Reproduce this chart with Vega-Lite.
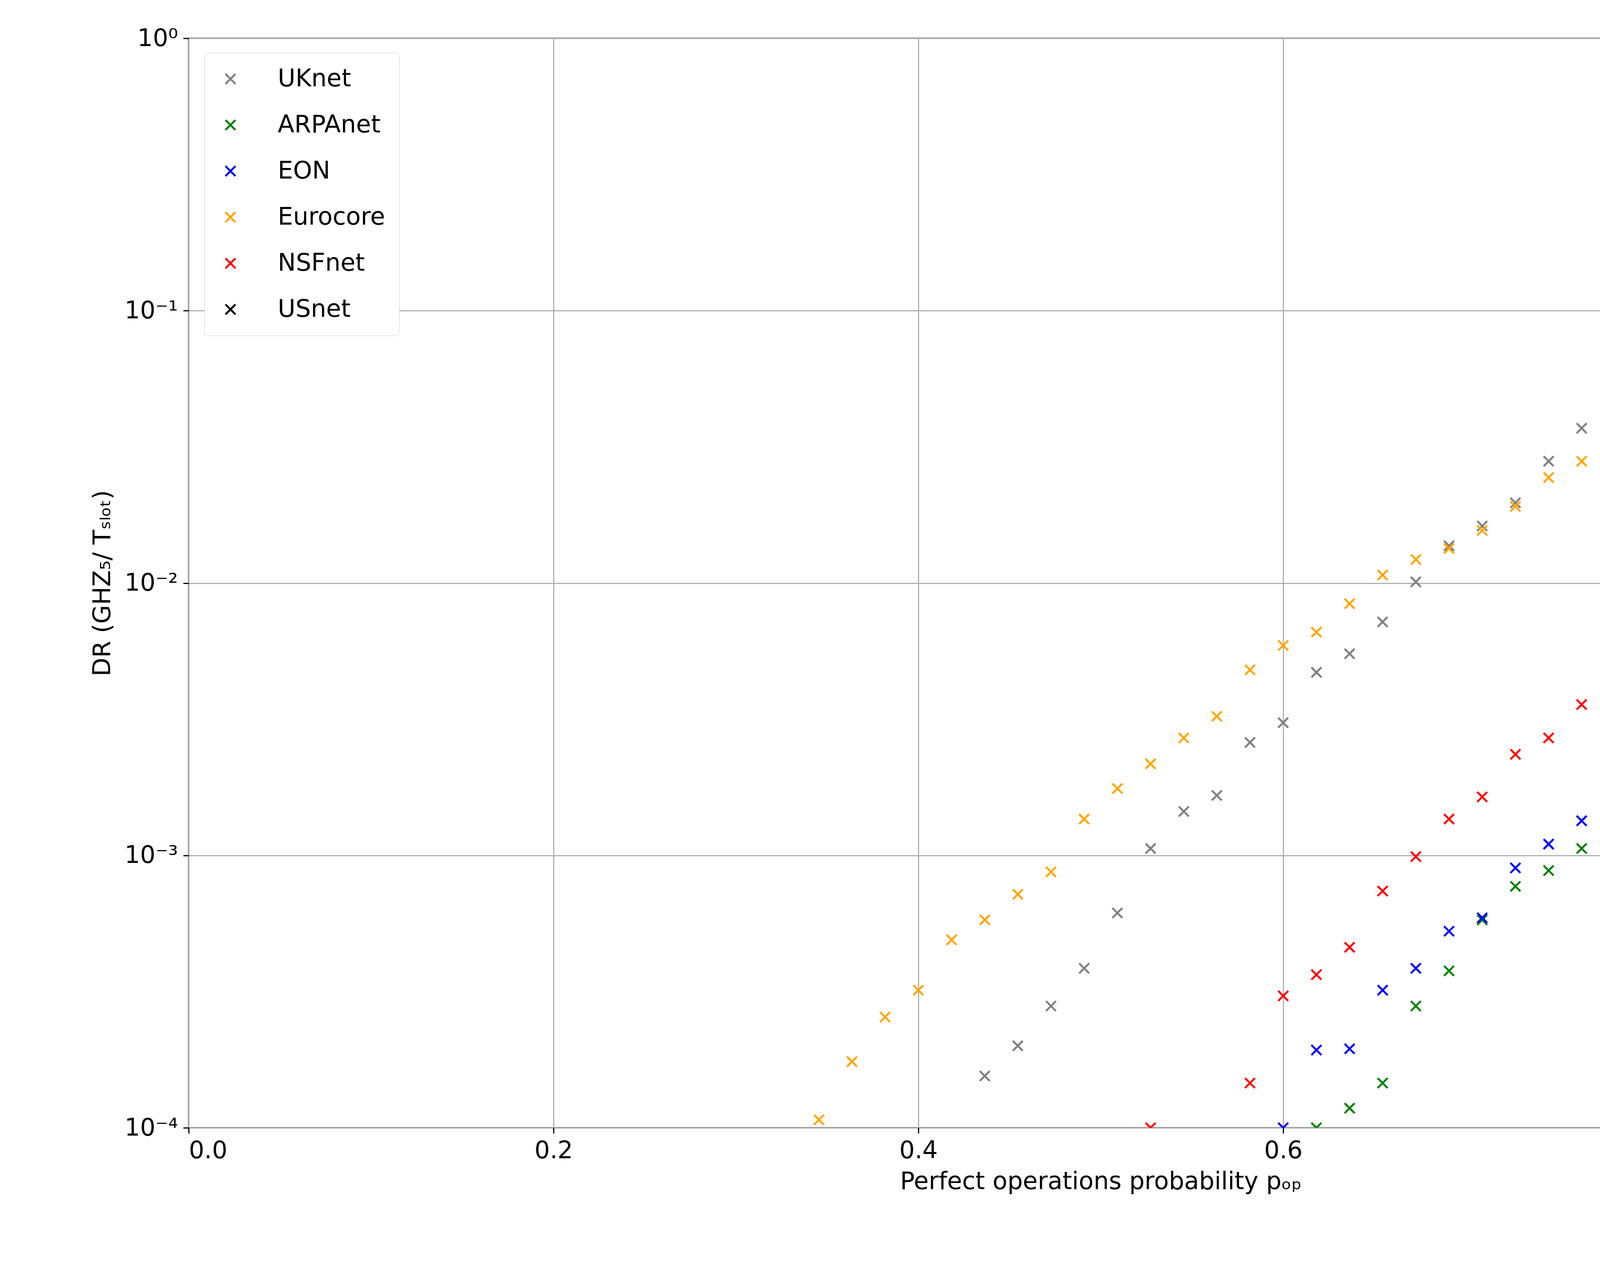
{
  "$schema": "https://vega.github.io/schema/vega-lite/v6.json",
  "width": 4670,
  "height": 2789,
  "autosize": "none",
  "padding": {"left": 483, "top": 98, "right": 115, "bottom": 341},
  "background": "white",
  "data": {"values": [
    {"s":"UKnet","x":0.4364,"y":1.55e-4},{"s":"UKnet","x":0.4545,"y":2.0e-4},{"s":"UKnet","x":0.4727,"y":2.8e-4},{"s":"UKnet","x":0.4909,"y":3.85e-4},{"s":"UKnet","x":0.5091,"y":6.15e-4},{"s":"UKnet","x":0.5273,"y":1.06e-3},{"s":"UKnet","x":0.5455,"y":1.45e-3},{"s":"UKnet","x":0.5636,"y":1.66e-3},{"s":"UKnet","x":0.5818,"y":2.6e-3},{"s":"UKnet","x":0.6,"y":3.07e-3},{"s":"UKnet","x":0.6182,"y":4.7e-3},{"s":"UKnet","x":0.6364,"y":5.5e-3},{"s":"UKnet","x":0.6545,"y":7.2e-3},{"s":"UKnet","x":0.6727,"y":1.01e-2},{"s":"UKnet","x":0.6909,"y":1.37e-2},{"s":"UKnet","x":0.7091,"y":1.62e-2},{"s":"UKnet","x":0.7273,"y":1.97e-2},{"s":"UKnet","x":0.7455,"y":2.8e-2},{"s":"UKnet","x":0.7636,"y":3.7e-2},{"s":"UKnet","x":0.7818,"y":4.55e-2},{"s":"UKnet","x":0.8,"y":6.2e-2},{"s":"UKnet","x":0.8182,"y":7.0e-2},{"s":"UKnet","x":0.8364,"y":8.4e-2},{"s":"UKnet","x":0.8545,"y":0.112},{"s":"UKnet","x":0.8727,"y":0.149},{"s":"UKnet","x":0.8909,"y":0.142},{"s":"UKnet","x":0.9091,"y":0.199},{"s":"UKnet","x":0.9273,"y":0.284},{"s":"UKnet","x":0.9455,"y":0.31},{"s":"UKnet","x":0.9636,"y":0.375},{"s":"UKnet","x":0.9818,"y":0.45},{"s":"UKnet","x":1.0,"y":0.54},
    {"s":"ARPAnet","x":0.6182,"y":1.0e-4},{"s":"ARPAnet","x":0.6364,"y":1.18e-4},{"s":"ARPAnet","x":0.6545,"y":1.46e-4},{"s":"ARPAnet","x":0.6727,"y":2.8e-4},{"s":"ARPAnet","x":0.6909,"y":3.77e-4},{"s":"ARPAnet","x":0.7091,"y":5.8e-4},{"s":"ARPAnet","x":0.7273,"y":7.7e-4},{"s":"ARPAnet","x":0.7455,"y":8.8e-4},{"s":"ARPAnet","x":0.7636,"y":1.06e-3},{"s":"ARPAnet","x":0.7818,"y":1.54e-3},{"s":"ARPAnet","x":0.8,"y":2.07e-3},{"s":"ARPAnet","x":0.8182,"y":2.8e-3},{"s":"ARPAnet","x":0.8364,"y":3.9e-3},{"s":"ARPAnet","x":0.8545,"y":4.5e-3},{"s":"ARPAnet","x":0.8727,"y":6.2e-3},{"s":"ARPAnet","x":0.8909,"y":8.5e-3},{"s":"ARPAnet","x":0.9091,"y":1.03e-2},{"s":"ARPAnet","x":0.9273,"y":1.08e-2},{"s":"ARPAnet","x":0.9455,"y":1.31e-2},{"s":"ARPAnet","x":0.9636,"y":1.83e-2},{"s":"ARPAnet","x":0.9818,"y":2.41e-2},{"s":"ARPAnet","x":1.0,"y":2.95e-2},
    {"s":"EON","x":0.6,"y":1.0e-4},{"s":"EON","x":0.6182,"y":1.93e-4},{"s":"EON","x":0.6364,"y":1.95e-4},{"s":"EON","x":0.6545,"y":3.2e-4},{"s":"EON","x":0.6727,"y":3.85e-4},{"s":"EON","x":0.6909,"y":5.27e-4},{"s":"EON","x":0.7091,"y":5.9e-4},{"s":"EON","x":0.7273,"y":9.0e-4},{"s":"EON","x":0.7455,"y":1.1e-3},{"s":"EON","x":0.7636,"y":1.34e-3},{"s":"EON","x":0.7818,"y":1.86e-3},{"s":"EON","x":0.8,"y":2.07e-3},{"s":"EON","x":0.8182,"y":2.7e-3},{"s":"EON","x":0.8364,"y":3.47e-3},{"s":"EON","x":0.8545,"y":3.58e-3},{"s":"EON","x":0.8727,"y":5.07e-3},{"s":"EON","x":0.8909,"y":5.42e-3},{"s":"EON","x":0.9091,"y":7.08e-3},{"s":"EON","x":0.9273,"y":8.2e-3},{"s":"EON","x":0.9455,"y":1.2e-2},{"s":"EON","x":0.9636,"y":1.41e-2},{"s":"EON","x":0.9818,"y":1.63e-2},{"s":"EON","x":1.0,"y":2.07e-2},
    {"s":"Eurocore","x":0.3455,"y":1.07e-4},{"s":"Eurocore","x":0.3636,"y":1.75e-4},{"s":"Eurocore","x":0.3818,"y":2.55e-4},{"s":"Eurocore","x":0.4,"y":3.2e-4},{"s":"Eurocore","x":0.4182,"y":4.9e-4},{"s":"Eurocore","x":0.4364,"y":5.8e-4},{"s":"Eurocore","x":0.4545,"y":7.2e-4},{"s":"Eurocore","x":0.4727,"y":8.7e-4},{"s":"Eurocore","x":0.4909,"y":1.36e-3},{"s":"Eurocore","x":0.5091,"y":1.76e-3},{"s":"Eurocore","x":0.5273,"y":2.17e-3},{"s":"Eurocore","x":0.5455,"y":2.7e-3},{"s":"Eurocore","x":0.5636,"y":3.24e-3},{"s":"Eurocore","x":0.5818,"y":4.8e-3},{"s":"Eurocore","x":0.6,"y":5.9e-3},{"s":"Eurocore","x":0.6182,"y":6.6e-3},{"s":"Eurocore","x":0.6364,"y":8.4e-3},{"s":"Eurocore","x":0.6545,"y":1.07e-2},{"s":"Eurocore","x":0.6727,"y":1.22e-2},{"s":"Eurocore","x":0.6909,"y":1.34e-2},{"s":"Eurocore","x":0.7091,"y":1.56e-2},{"s":"Eurocore","x":0.7273,"y":1.91e-2},{"s":"Eurocore","x":0.7455,"y":2.44e-2},{"s":"Eurocore","x":0.7636,"y":2.8e-2},{"s":"Eurocore","x":0.7818,"y":3.4e-2},{"s":"Eurocore","x":0.8,"y":4.5e-2},{"s":"Eurocore","x":0.8182,"y":4.8e-2},{"s":"Eurocore","x":0.8364,"y":5.6e-2},{"s":"Eurocore","x":0.8545,"y":6.7e-2},{"s":"Eurocore","x":0.8727,"y":6.9e-2},{"s":"Eurocore","x":0.8909,"y":8.1e-2},{"s":"Eurocore","x":0.9091,"y":0.106},{"s":"Eurocore","x":0.9273,"y":0.117},{"s":"Eurocore","x":0.9455,"y":0.145},{"s":"Eurocore","x":0.9636,"y":0.14},{"s":"Eurocore","x":0.9818,"y":0.2},{"s":"Eurocore","x":1.0,"y":0.18},
    {"s":"NSFnet","x":0.5273,"y":1.0e-4},{"s":"NSFnet","x":0.5818,"y":1.46e-4},{"s":"NSFnet","x":0.6,"y":3.05e-4},{"s":"NSFnet","x":0.6182,"y":3.65e-4},{"s":"NSFnet","x":0.6364,"y":4.6e-4},{"s":"NSFnet","x":0.6545,"y":7.4e-4},{"s":"NSFnet","x":0.6727,"y":9.9e-4},{"s":"NSFnet","x":0.6909,"y":1.36e-3},{"s":"NSFnet","x":0.7091,"y":1.64e-3},{"s":"NSFnet","x":0.7273,"y":2.35e-3},{"s":"NSFnet","x":0.7455,"y":2.7e-3},{"s":"NSFnet","x":0.7636,"y":3.58e-3},{"s":"NSFnet","x":0.7818,"y":5.5e-3},{"s":"NSFnet","x":0.8,"y":5.8e-3},{"s":"NSFnet","x":0.8182,"y":8.5e-3},{"s":"NSFnet","x":0.8364,"y":9.8e-3},{"s":"NSFnet","x":0.8545,"y":1.21e-2},{"s":"NSFnet","x":0.8727,"y":1.69e-2},{"s":"NSFnet","x":0.8909,"y":2.09e-2},{"s":"NSFnet","x":0.9091,"y":2.7e-2},{"s":"NSFnet","x":0.9273,"y":3.08e-2},{"s":"NSFnet","x":0.9455,"y":4.12e-2},{"s":"NSFnet","x":0.9636,"y":4.87e-2},{"s":"NSFnet","x":0.9818,"y":5.6e-2},{"s":"NSFnet","x":1.0,"y":7.4e-2},
    {"s":"USnet","x":0.8545,"y":1.0e-4},{"s":"USnet","x":0.8727,"y":1.73e-4},{"s":"USnet","x":0.8909,"y":3.0e-4},{"s":"USnet","x":0.9091,"y":5.15e-4},{"s":"USnet","x":0.9273,"y":8.6e-4},{"s":"USnet","x":0.9455,"y":1.55e-3},{"s":"USnet","x":0.9636,"y":2.73e-3},{"s":"USnet","x":0.9818,"y":3.96e-3},{"s":"USnet","x":1.0,"y":6.8e-3}
  ]},
  "mark": {
    "type": "point",
    "shape": "M-1,-1L1,1M-1,1L1,-1",
    "filled": false,
    "size": 650,
    "strokeWidth": 5,
    "opacity": 1,
    "clip": true
  },
  "encoding": {
    "x": {
      "field": "x", "type": "quantitative",
      "scale": {"domain": [0, 1], "nice": false, "zero": false},
      "axis": {"values": [0, 0.2, 0.4, 0.6, 0.8, 1.0], "format": ".1f", "title": "Perfect operations probability pₒₚ"}
    },
    "y": {
      "field": "y", "type": "quantitative",
      "scale": {"type": "log", "domain": [0.0001, 1], "nice": false},
      "axis": {
        "values": [0.0001, 0.001, 0.01, 0.1, 1],
        "labelExpr": "datum.value >= 1 ? '10⁰' : datum.value >= 0.1 ? '10⁻¹' : datum.value >= 0.01 ? '10⁻²' : datum.value >= 0.001 ? '10⁻³' : '10⁻⁴'",
        "title": "DR (GHZ₅/ Tₛₗₒₜ)"
      }
    },
    "color": {
      "field": "s", "type": "nominal",
      "sort": ["UKnet", "ARPAnet", "EON", "Eurocore", "NSFnet", "USnet"],
      "scale": {"domain": ["UKnet", "ARPAnet", "EON", "Eurocore", "NSFnet", "USnet"], "range": ["gray", "green", "blue", "orange", "red", "black"]},
      "legend": {
        "title": null,
        "orient": "none",
        "legendX": 40,
        "legendY": 37,
        "symbolType": "M-1,-1L1,1M-1,1L1,-1",
        "symbolSize": 650,
        "symbolStrokeWidth": 5,
        "symbolFillColor": "transparent",
        "labelFontSize": 62,
        "labelLimit": 0,
        "labelOffset": 90,
        "rowPadding": 56,
        "padding": 36,
        "strokeColor": "#cccccc",
        "fillColor": "white",
        "cornerRadius": 10
      }
    }
  },
  "config": {
    "font": "DejaVu Sans",
    "view": {"stroke": "black", "strokeWidth": 3},
    "axis": {
      "labelFontSize": 62,
      "titleFontSize": 62,
      "titleFontWeight": "normal",
      "labelColor": "black",
      "titleColor": "black",
      "grid": true,
      "gridColor": "#b0b0b0",
      "gridWidth": 3,
      "domain": false,
      "tickColor": "black",
      "tickWidth": 3,
      "tickSize": 14,
      "labelPadding": 14
    },
    "axisX": {"titlePadding": 18},
    "axisY": {"titlePadding": 24},
    "legend": {"labelColor": "black"}
  }
}
